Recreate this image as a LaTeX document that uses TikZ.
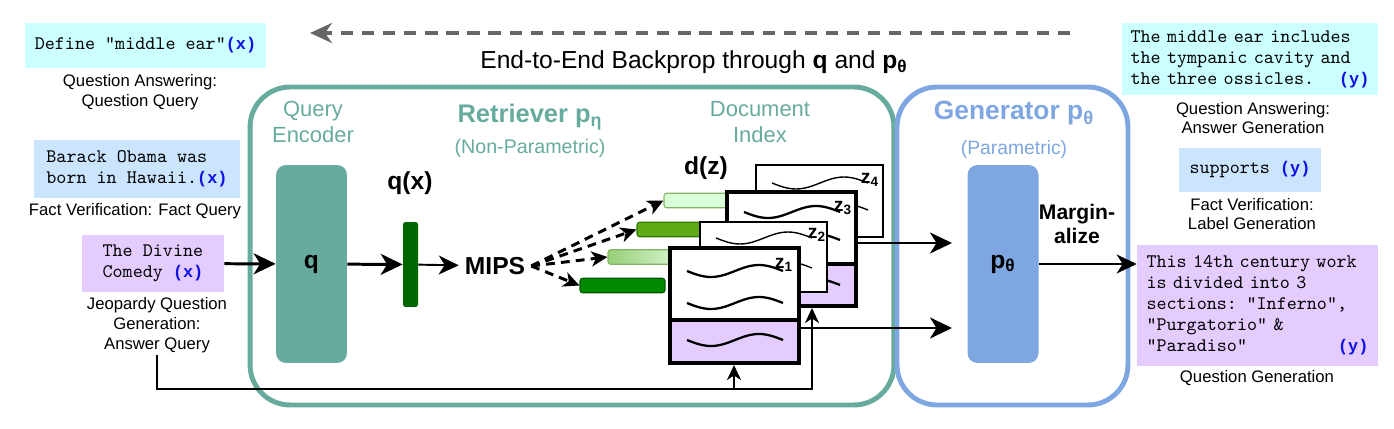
\documentclass[tikz,border=0pt]{standalone}
\usepackage{fontspec}
\setmainfont{Liberation Sans}
\newfontfamily\xyfont{Liberation Mono}
\usetikzlibrary{arrows.meta,positioning}

\definecolor{retr}{HTML}{67AB9F}
\definecolor{gen}{HTML}{7EA6E0}
\definecolor{qacol}{HTML}{CCFFFF}
\definecolor{fvcol}{HTML}{CCE5FF}
\definecolor{jqcol}{HTML}{E5CCFF}
\definecolor{xyblue}{HTML}{1010E8}
\definecolor{qbar}{HTML}{006600}
\definecolor{backgray}{HTML}{666666}
\newcommand{\xylabel}[1]{{\xyfont\fontsize{9.6}{11.9}\selectfont\bfseries\textcolor{xyblue}{(#1)}}}

\begin{document}
\begin{tikzpicture}[
  x=0.02cm, y=-0.02cm,
  arrow/.style={-{Stealth[length=4.4mm,width=4.2mm,inset=1.3mm]},line width=1.7pt},
  midarrow/.style={-{Stealth[length=4mm,width=3.8mm,inset=1.2mm]},line width=1.1pt},
  thinarrow/.style={-{Stealth[length=3mm,width=2.8mm,inset=0.9mm]},line width=1.1pt},
  dasharrow/.style={-{Stealth[length=3.2mm,width=3mm,inset=0.9mm]},line width=1.7pt,dash pattern=on 5pt off 3.5pt},
  backprop/.style={-{Stealth[length=4.4mm,width=4mm,inset=1.4mm]},line width=2.3pt,draw=backgray,dash pattern=on 7pt off 5pt},
  example/.style={font=\fontsize{10.9}{11.9}\selectfont\ttfamily,align=left,inner sep=0pt},
  caption/.style={font=\fontsize{9.5}{11.3}\selectfont,align=center,inner sep=1pt},
  heading/.style={font=\fontsize{12.5}{14.7}\selectfont,align=center},
  boldlabel/.style={font=\fontsize{14}{16}\selectfont\bfseries},
  block/.style={rounded corners=0.2cm,minimum width=1.42cm,minimum height=3.96cm,font=\fontsize{14}{16}\selectfont\bfseries},
  frame/.style={rounded corners=0.8cm,line width=2.8pt,minimum height=6.36cm},
  card/.style={draw,line width=2.3pt,minimum width=2.58cm,inner sep=0pt},
  thincard/.style={draw,line width=0.6pt,fill=white,inner sep=0pt},
  bar/.style={rounded corners=1.5pt,minimum height=0.29cm,inner sep=0pt,line width=0.6pt},
  zlabel/.style={font=\fontsize{11}{13}\selectfont\bfseries,inner sep=0pt},
  wave/.pic={\draw (0,0) sin (24,6) cos (48,0) sin (72,-6) cos (96,0);}
]
  \useasboundingbox (0,0) rectangle (1394,429);

  \node[frame,draw=retr,minimum width=12.88cm] (retriever) at (572,246) {};
  \node[frame,draw=gen,minimum width=4.62cm] (generator) at (1012.5,246) {};

  \coordinate (bpstart) at (1070,33);
  \coordinate (bpend) at (310,33);
  \draw[backprop] (bpstart) -- (bpend);
  \node[font=\fontsize{14}{16}\selectfont] (title) at (694,62)
    {End-to-End Backprop through \textbf{q} and \textbf{p\textsubscript{θ}}};

  % inputs
  \node[example,fill=qacol,minimum width=4.82cm,minimum height=0.9cm] (qaq) at (145.5,45.5) {Define "middle ear"\xylabel{x}};
  \node[caption] (qaqcap) at (140,92) {Question Answering:\\Question Query};
  \node[example,fill=fvcol,minimum width=4.12cm,minimum height=1.16cm] (fvq) at (137,169) {Barack Obama was\\born in Hawaii.\xylabel{x}};
  \node[caption] (fvqcap) at (135,211) {Fact Verification: Fact Query};
  \node[example,fill=jqcol,minimum width=2.84cm,minimum height=1.14cm] (jqq) at (153,263.5) {The Divine\\Comedy \xylabel{x}};
  \node[caption] (jqqcap) at (157,325) {Jeopardy Question\\Generation:\\Answer Query};

  % retriever
  \node[heading,text=retr] (qenclabel) at (313,122) {Query\\Encoder};
  \node[block,fill=retr] (qenc) at (311.5,264) {q};
  \node[boldlabel] (qxlabel) at (410,183) {q(x)};
  \node[fill=qbar,rounded corners=1pt,minimum width=0.3cm,minimum height=1.7cm,inner sep=0pt] (qx) at (410.5,264.5) {};
  \node[boldlabel] (mips) at (495,266) {MIPS};
  \node[font=\fontsize{14.5}{17}\selectfont\bfseries,text=retr,anchor=base] (retrlabel) at (530,123) {Retriever p\textsubscript{η}};
  \node[font=\fontsize{11.2}{13}\selectfont,text=retr] (retrsub) at (530,148) {(Non-Parametric)};
  \node[heading,text=retr] (indexlabel) at (760,122) {Document\\Index};
  \node[boldlabel] (dzlabel) at (706,168) {d(z)};

  \draw[arrow] (jqq) -- (qenc);
  \draw[arrow] (qenc) -- (qx);
  \draw[midarrow] (qx) -- (mips);

  \node[bar,fill=green!15!white,draw={rgb,255:red,130;green,179;blue,102},minimum width=1.92cm] (bar1) at (712,200.5) {};
  \node[bar,fill={rgb,255:red,96;green,169;blue,23},draw={rgb,255:red,45;green,118;blue,0},minimum width=2.06cm] (bar2) at (688.5,229.5) {};
  \node[bar,left color={rgb,255:red,151;green,208;blue,119},right color=green!8!white,draw={rgb,255:red,130;green,179;blue,102},minimum width=1.84cm] (bar3) at (654,257) {};
  \node[bar,fill={rgb,255:red,0;green,138;blue,0},draw={rgb,255:red,0;green,87;blue,0},minimum width=1.7cm] (bar4) at (622.5,285.5) {};

  \draw[dasharrow] (mips.east) -- (bar1.west);
  \draw[dasharrow] (mips.east) -- (bar2.west);
  \draw[dasharrow] (mips.east) -- (bar3.west);
  \draw[dasharrow] (mips.east) -- (bar4.west);

  % documents
  \node[thincard,minimum width=2.54cm,minimum height=1.44cm] (z4) at (819.5,201) {};
  \pic[line width=0.8pt] at (772,183) {wave};
  \pic[line width=0.8pt] at (772,210) {wave};
  \node[zlabel] (z4label) at (870,180) {z\textsubscript{4}};

  \node[card,fill=white,minimum height=1.44cm] (z3t) at (791.5,228) {};
  \node[card,fill=jqcol,minimum height=0.84cm] (z3b) at (791.5,285) {};
  \pic[line width=1.3pt] at (744,212) {wave};
  \pic[line width=1.3pt] at (744,240) {wave};
  \pic[line width=1.3pt] at (744,285) {wave};
  \node[zlabel] (z3label) at (843,208) {z\textsubscript{3}};

  \node[thincard,minimum width=2.54cm,minimum height=1.4cm] (z2) at (763.5,257) {};
  \pic[line width=0.8pt] at (716,238) {wave};
  \pic[line width=0.8pt] at (716,268) {wave};
  \node[zlabel] (z2label) at (817,235) {z\textsubscript{2}};

  \node[card,fill=white,minimum height=1.44cm] (z1t) at (734.5,284) {};
  \node[card,fill=jqcol,minimum height=0.86cm] (z1b) at (734.5,341.5) {};
  \pic[line width=1.3pt] at (687,271) {wave};
  \pic[line width=1.3pt] at (687,303) {wave};
  \pic[line width=1.3pt] at (687,340) {wave};
  \node[zlabel] (z1label) at (784,265) {z\textsubscript{1}};

  \coordinate (gin1) at (952,243);
  \coordinate (gin2) at (952,328);
  \draw[arrow] (z3t.east |- gin1) -- (gin1);
  \draw[arrow] (z1b.east |- gin2) -- (gin2);

  \coordinate (fb1) at (734,389);
  \coordinate (fb3) at (812,389);
  \draw[thinarrow] (jqqcap.south) |- (fb3) -- (fb3 |- z3b.south);
  \draw[thinarrow] (fb1) -- (fb1 |- z1b.south);

  % generator
  \node[font=\fontsize{15}{17}\selectfont\bfseries,text=gen,anchor=base] (genlabel) at (1014,120) {Generator p\textsubscript{θ}};
  \node[font=\fontsize{11}{13}\selectfont,text=gen] (gensub) at (1014,149) {(Parametric)};
  \node[block,fill=gen] (pgen) at (1003,264) {p\textsubscript{θ}};
  \node[font=\fontsize{12}{13.5}\selectfont\bfseries,align=center] (marglabel) at (1077,224) {Margin-\\alize};

  % outputs
  \node[example,fill=qacol,minimum width=5.12cm,minimum height=1.44cm,text width=4.78cm] (qaa) at (1250,59) {The middle ear includes\\the tympanic cavity and\\the three ossicles.\hfill\xylabel{y}};
  \node[caption] (qaacap) at (1253,118) {Question Answering:\\Answer Generation};
  \node[example,fill=fvcol,minimum width=2.84cm,minimum height=0.88cm] (fva) at (1250,170) {supports \xylabel{y}};
  \node[caption] (fvacap) at (1252,214) {Fact Verification:\\Label Generation};
  \node[example,fill=jqcol,minimum width=4.82cm,minimum height=2.42cm,text width=4.44cm] (qg) at (1257.5,305.5) {This 14th century work\\is divided into 3\\sections: "Inferno",\\"Purgatorio" \&\\"Paradiso"\hfill\xylabel{y}};
  \node[caption] (qgcap) at (1257,378) {Question Generation};

  \draw[midarrow] (pgen.east) -- (pgen.east -| qg.west);
\end{tikzpicture}
\end{document}
